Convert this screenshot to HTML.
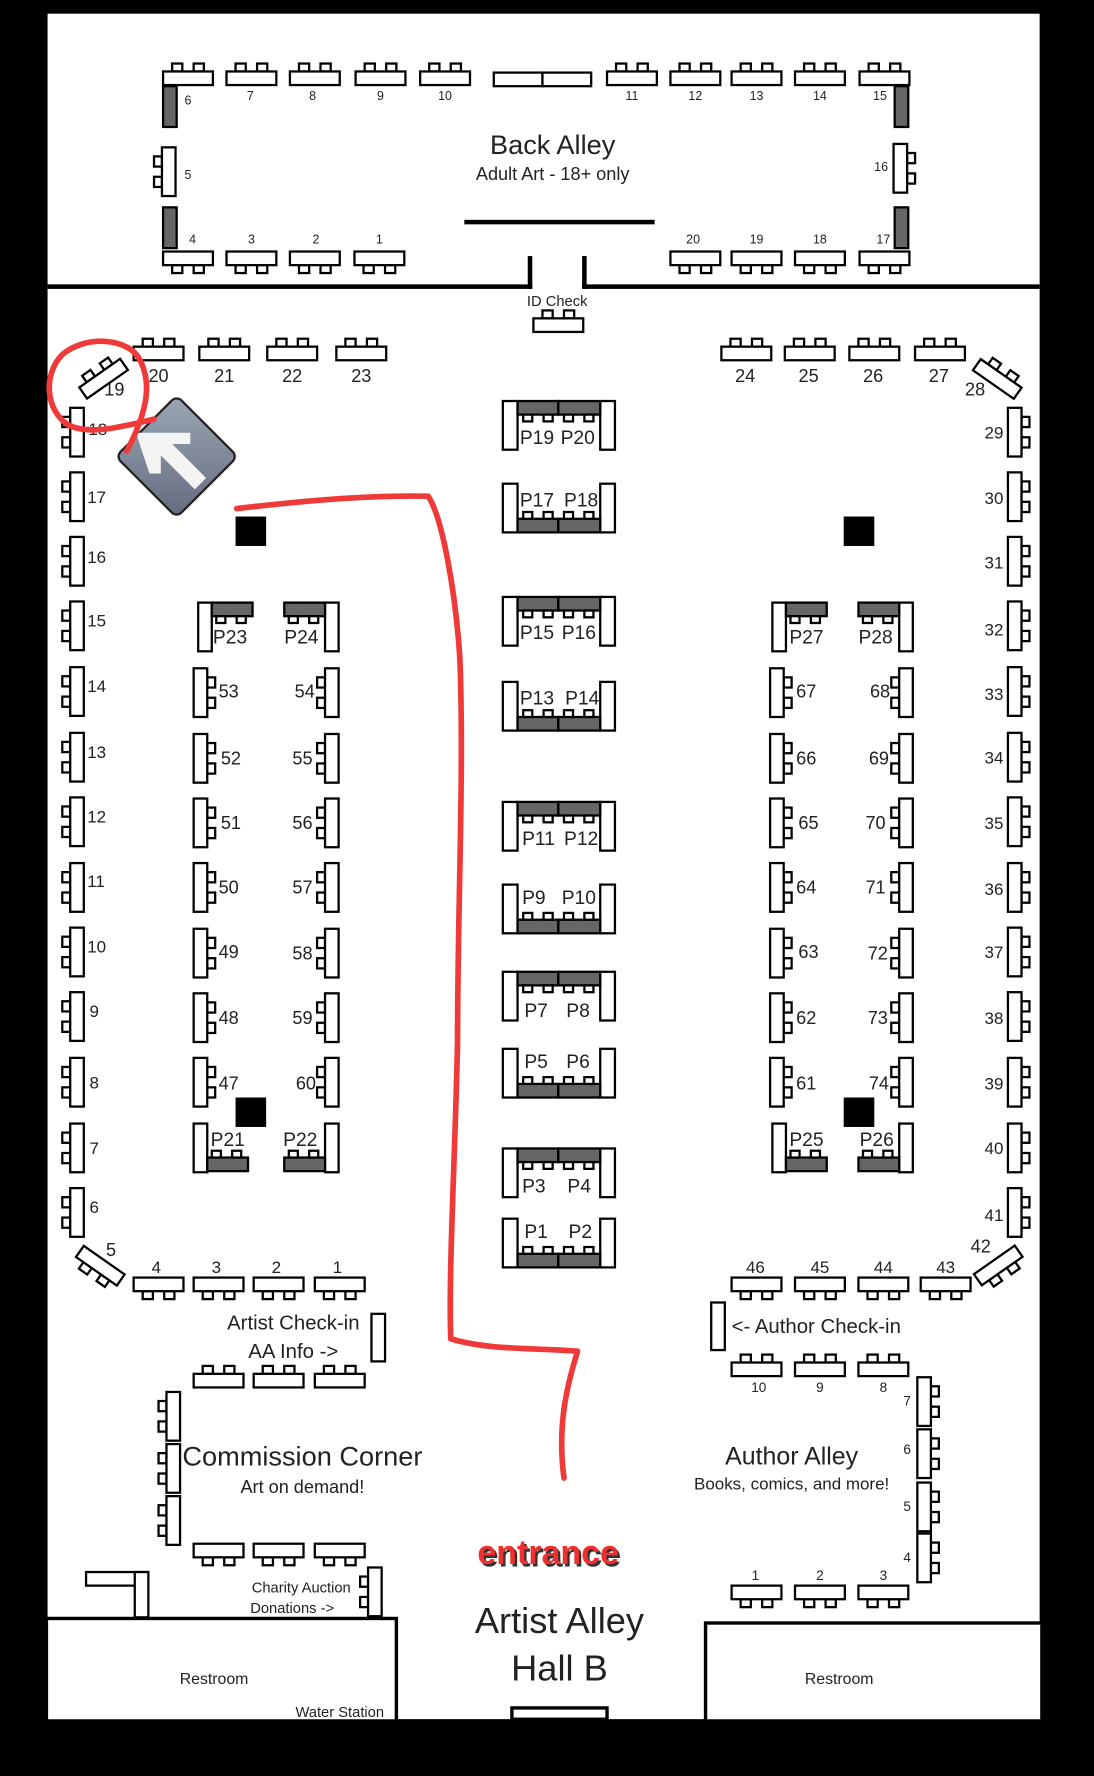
<!DOCTYPE html>
<html><head><meta charset="utf-8"><style>
html,body{margin:0;padding:0;background:#000;}
svg{display:block;}
text{font-family:"Liberation Sans",sans-serif;fill:#222;}
</style></head><body>
<svg width="1094" height="1776" viewBox="0 0 966 1568" xmlns="http://www.w3.org/2000/svg" xmlns:xlink="http://www.w3.org/1999/xlink">
<defs>
<g id="ht" fill="#fff" stroke="#000" stroke-width="2"><rect x="8" y="-7" width="9" height="7"/><rect x="27" y="-7" width="9" height="7"/><rect x="0" y="0" width="44" height="12"/></g>
<g id="hb" fill="#fff" stroke="#000" stroke-width="2"><rect x="8" y="12" width="9" height="7"/><rect x="27" y="12" width="9" height="7"/><rect x="0" y="0" width="44" height="12"/></g>
<g id="vl" fill="#fff" stroke="#000" stroke-width="2"><rect x="-7" y="8" width="7" height="9"/><rect x="-7" y="26" width="7" height="9"/><rect x="0" y="0" width="12" height="43"/></g>
<g id="vr" fill="#fff" stroke="#000" stroke-width="2"><rect x="12" y="8" width="7" height="9"/><rect x="12" y="26" width="7" height="9"/><rect x="0" y="0" width="12" height="43"/></g>
<g id="pt" stroke="#000" stroke-width="2"><rect x="0" y="0" width="13" height="43" fill="#fff"/><rect x="86" y="0" width="13" height="43" fill="#fff"/><rect x="13" y="0" width="36" height="12" fill="#666"/><rect x="49" y="0" width="37" height="12" fill="#666"/><g fill="#fff"><rect x="18" y="12" width="8" height="6"/><rect x="36" y="12" width="8" height="6"/><rect x="54" y="12" width="8" height="6"/><rect x="72" y="12" width="8" height="6"/></g></g>
<g id="pb" stroke="#000" stroke-width="2"><rect x="0" y="0" width="13" height="43" fill="#fff"/><rect x="86" y="0" width="13" height="43" fill="#fff"/><rect x="13" y="31" width="36" height="12" fill="#666"/><rect x="49" y="31" width="37" height="12" fill="#666"/><g fill="#fff"><rect x="18" y="25" width="8" height="6"/><rect x="36" y="25" width="8" height="6"/><rect x="54" y="25" width="8" height="6"/><rect x="72" y="25" width="8" height="6"/></g></g>
<linearGradient id="gd" x1="0" y1="0" x2="1" y2="1"><stop offset="0" stop-color="#9aa8b3"/><stop offset="1" stop-color="#666b80"/></linearGradient>
</defs>
<rect x="0" y="0" width="966" height="1568" fill="#000"/>
<rect x="42" y="12" width="876" height="1506" fill="#fff"/>

<!-- Back Alley -->
<g>
<use href="#ht" x="144" y="63"/><use href="#ht" x="200" y="63"/><use href="#ht" x="256" y="63"/><use href="#ht" x="314" y="63"/><use href="#ht" x="371" y="63"/>
<rect x="436" y="64" width="43" height="12" fill="#fff" stroke="#000" stroke-width="2"/><rect x="479" y="64" width="43" height="12" fill="#fff" stroke="#000" stroke-width="2"/>
<use href="#ht" x="536" y="63"/><use href="#ht" x="592" y="63"/><use href="#ht" x="646" y="63"/><use href="#ht" x="702" y="63"/><use href="#ht" x="759" y="63"/>
<rect x="144" y="76" width="12" height="36" fill="#666" stroke="#000" stroke-width="2"/>
<rect x="790" y="76" width="12" height="36" fill="#666" stroke="#000" stroke-width="2"/>
<rect x="144" y="183" width="12" height="36" fill="#666" stroke="#000" stroke-width="2"/>
<rect x="790" y="183" width="12" height="36" fill="#666" stroke="#000" stroke-width="2"/>
<use href="#vl" x="143" y="130"/><use href="#vr" x="789" y="127"/>
<use href="#hb" x="144" y="222"/><use href="#hb" x="200" y="222"/><use href="#hb" x="256" y="222"/><use href="#hb" x="313" y="222"/>
<use href="#hb" x="592" y="222"/><use href="#hb" x="646" y="222"/><use href="#hb" x="702" y="222"/><use href="#hb" x="759" y="222"/>
<g font-size="11" text-anchor="middle">
<text x="166" y="92">6</text><text x="221" y="88">7</text><text x="276" y="88">8</text><text x="336" y="88">9</text><text x="393" y="88">10</text>
<text x="558" y="88">11</text><text x="614" y="88">12</text><text x="668" y="88">13</text><text x="724" y="88">14</text><text x="777" y="88">15</text>
<text x="166" y="158">5</text><text x="778" y="151">16</text>
<text x="170" y="215">4</text><text x="222" y="215">3</text><text x="279" y="215">2</text><text x="335" y="215">1</text>
<text x="612" y="215">20</text><text x="668" y="215">19</text><text x="724" y="215">18</text><text x="780" y="215">17</text>
</g>
<text x="488" y="136" font-size="24" text-anchor="middle">Back Alley</text>
<text x="488" y="159" font-size="16" text-anchor="middle">Adult Art - 18+ only</text>
<rect x="410" y="194" width="168" height="4" fill="#000"/>
<rect x="42" y="251" width="428" height="4" fill="#000"/><rect x="514" y="251" width="404" height="4" fill="#000"/>
<rect x="466" y="226" width="4" height="29" fill="#000"/><rect x="514" y="226" width="4" height="29" fill="#000"/>
<text x="492" y="270" font-size="13" text-anchor="middle">ID Check</text>
<use href="#ht" x="471" y="281"/>
</g>

<!-- top main row -->
<use href="#ht" x="118" y="306"/><use href="#ht" x="176" y="306"/><use href="#ht" x="236" y="306"/><use href="#ht" x="297" y="306"/>
<use href="#ht" x="637" y="306"/><use href="#ht" x="693" y="306"/><use href="#ht" x="750" y="306"/><use href="#ht" x="808" y="306"/>
<g font-size="16" text-anchor="middle">
<text x="140" y="337">20</text><text x="198" y="337">21</text><text x="258" y="337">22</text><text x="319" y="337">23</text>
<text x="658" y="337">24</text><text x="714" y="337">25</text><text x="771" y="337">26</text><text x="829" y="337">27</text>
<text x="101" y="349">19</text><text x="861" y="349">28</text>
<text x="98" y="1109">5</text><text x="866" y="1106">42</text>
</g>
<use href="#ht" transform="translate(70,342) rotate(-35)"/>
<use href="#ht" transform="translate(866,317) rotate(35)"/>
<use href="#hb" transform="translate(74,1100) rotate(35)"/>
<use href="#hb" transform="translate(860,1125) rotate(-35)"/>

<!-- left wall -->
<g>
<use href="#vl" x="62" y="360"/><use href="#vl" x="62" y="417"/><use href="#vl" x="62" y="474"/><use href="#vl" x="62" y="531"/><use href="#vl" x="62" y="589"/><use href="#vl" x="62" y="647"/><use href="#vl" x="62" y="704"/><use href="#vl" x="62" y="762"/><use href="#vl" x="62" y="819"/><use href="#vl" x="62" y="876"/><use href="#vl" x="62" y="934"/><use href="#vl" x="62" y="992"/><use href="#vl" x="62" y="1049"/>
</g>
<g font-size="15">
<text x="78" y="384">18</text><text x="77" y="444">17</text><text x="77" y="497">16</text><text x="77" y="553">15</text><text x="77" y="611">14</text><text x="77" y="669">13</text><text x="77" y="726">12</text><text x="77" y="783">11</text><text x="77" y="841">10</text><text x="79" y="898">9</text><text x="79" y="961">8</text><text x="79" y="1019">7</text><text x="79" y="1071">6</text>
</g>
<!-- right wall -->
<g>
<use href="#vr" x="890" y="360"/><use href="#vr" x="890" y="417"/><use href="#vr" x="890" y="474"/><use href="#vr" x="890" y="531"/><use href="#vr" x="890" y="589"/><use href="#vr" x="890" y="647"/><use href="#vr" x="890" y="704"/><use href="#vr" x="890" y="762"/><use href="#vr" x="890" y="819"/><use href="#vr" x="890" y="876"/><use href="#vr" x="890" y="934"/><use href="#vr" x="890" y="992"/><use href="#vr" x="890" y="1049"/>
</g>
<g font-size="15" text-anchor="end">
<text x="886" y="387">29</text><text x="886" y="445">30</text><text x="886" y="502">31</text><text x="886" y="561">32</text><text x="886" y="618">33</text><text x="886" y="674">34</text><text x="886" y="732">35</text><text x="886" y="790">36</text><text x="886" y="846">37</text><text x="886" y="904">38</text><text x="886" y="962">39</text><text x="886" y="1019">40</text><text x="886" y="1078">41</text>
</g>

<!-- center P tables -->
<use href="#pt" x="444" y="354"/><use href="#pb" x="444" y="427"/>
<use href="#pt" x="444" y="527"/><use href="#pb" x="444" y="602"/>
<use href="#pt" x="444" y="708"/><use href="#pb" x="444" y="781"/>
<use href="#pt" x="444" y="858"/><use href="#pb" x="444" y="926"/>
<use href="#pt" x="444" y="1014"/><use href="#pb" x="444" y="1076"/>
<g font-size="17">
<text x="459" y="392">P19</text><text x="495" y="392">P20</text>
<text x="459" y="447">P17</text><text x="498" y="447">P18</text>
<text x="459" y="564">P15</text><text x="496" y="564">P16</text>
<text x="459" y="622">P13</text><text x="499" y="622">P14</text>
<text x="461" y="746">P11</text><text x="498" y="746">P12</text>
<text x="461" y="798">P9</text><text x="496" y="798">P10</text>
<text x="463" y="898">P7</text><text x="500" y="898">P8</text>
<text x="463" y="943">P5</text><text x="500" y="943">P6</text>
<text x="461" y="1053">P3</text><text x="501" y="1053">P4</text>
<text x="463" y="1093">P1</text><text x="502" y="1093">P2</text>
</g>

<!-- side P tables & columns -->
<g stroke="#000" stroke-width="2">
<rect x="175" y="532" width="12" height="43" fill="#fff"/><rect x="187" y="532" width="36" height="12" fill="#666"/><rect x="191" y="544" width="8" height="6" fill="#fff"/><rect x="209" y="544" width="8" height="6" fill="#fff"/>
<rect x="287" y="532" width="12" height="43" fill="#fff"/><rect x="251" y="532" width="36" height="12" fill="#666"/><rect x="255" y="544" width="8" height="6" fill="#fff"/><rect x="273" y="544" width="8" height="6" fill="#fff"/>
<rect x="682" y="532" width="12" height="43" fill="#fff"/><rect x="694" y="532" width="36" height="12" fill="#666"/><rect x="698" y="544" width="8" height="6" fill="#fff"/><rect x="716" y="544" width="8" height="6" fill="#fff"/>
<rect x="794" y="532" width="12" height="43" fill="#fff"/><rect x="758" y="532" width="36" height="12" fill="#666"/><rect x="762" y="544" width="8" height="6" fill="#fff"/><rect x="780" y="544" width="8" height="6" fill="#fff"/>
<rect x="171" y="992" width="12" height="43" fill="#fff"/><rect x="183" y="1022" width="36" height="12" fill="#666"/><rect x="187" y="1016" width="8" height="6" fill="#fff"/><rect x="205" y="1016" width="8" height="6" fill="#fff"/>
<rect x="287" y="992" width="12" height="43" fill="#fff"/><rect x="251" y="1022" width="36" height="12" fill="#666"/><rect x="255" y="1016" width="8" height="6" fill="#fff"/><rect x="273" y="1016" width="8" height="6" fill="#fff"/>
<rect x="682" y="992" width="12" height="43" fill="#fff"/><rect x="694" y="1022" width="36" height="12" fill="#666"/><rect x="698" y="1016" width="8" height="6" fill="#fff"/><rect x="716" y="1016" width="8" height="6" fill="#fff"/>
<rect x="794" y="992" width="12" height="43" fill="#fff"/><rect x="758" y="1022" width="36" height="12" fill="#666"/><rect x="762" y="1016" width="8" height="6" fill="#fff"/><rect x="780" y="1016" width="8" height="6" fill="#fff"/>
</g>
<g font-size="17">
<text x="188" y="568">P23</text><text x="251" y="568">P24</text><text x="697" y="568">P27</text><text x="758" y="568">P28</text>
<text x="186" y="1012">P21</text><text x="250" y="1012">P22</text><text x="697" y="1012">P25</text><text x="759" y="1012">P26</text>
</g>
<g>
<use href="#vr" x="171" y="590"/><use href="#vr" x="171" y="648"/><use href="#vr" x="171" y="705"/><use href="#vr" x="171" y="762"/><use href="#vr" x="171" y="820"/><use href="#vr" x="171" y="877"/><use href="#vr" x="171" y="934"/>
<use href="#vl" x="287" y="590"/><use href="#vl" x="287" y="648"/><use href="#vl" x="287" y="705"/><use href="#vl" x="287" y="762"/><use href="#vl" x="287" y="820"/><use href="#vl" x="287" y="877"/><use href="#vl" x="287" y="934"/>
<use href="#vr" x="680" y="590"/><use href="#vr" x="680" y="648"/><use href="#vr" x="680" y="705"/><use href="#vr" x="680" y="762"/><use href="#vr" x="680" y="820"/><use href="#vr" x="680" y="877"/><use href="#vr" x="680" y="934"/>
<use href="#vl" x="794" y="590"/><use href="#vl" x="794" y="648"/><use href="#vl" x="794" y="705"/><use href="#vl" x="794" y="762"/><use href="#vl" x="794" y="820"/><use href="#vl" x="794" y="877"/><use href="#vl" x="794" y="934"/>
</g>
<g font-size="16">
<text x="193" y="616">53</text><text x="195" y="675">52</text><text x="195" y="732">51</text><text x="193" y="789">50</text><text x="193" y="846">49</text><text x="193" y="904">48</text><text x="193" y="962">47</text>
<text x="703" y="616">67</text><text x="703" y="675">66</text><text x="705" y="732">65</text><text x="703" y="789">64</text><text x="705" y="846">63</text><text x="703" y="904">62</text><text x="703" y="962">61</text>
</g>
<g font-size="16" text-anchor="end">
<text x="278" y="616">54</text><text x="276" y="675">55</text><text x="276" y="732">56</text><text x="276" y="789">57</text><text x="276" y="847">58</text><text x="276" y="904">59</text><text x="279" y="962">60</text>
<text x="786" y="616">68</text><text x="785" y="675">69</text><text x="782" y="732">70</text><text x="782" y="789">71</text><text x="784" y="847">72</text><text x="784" y="904">73</text><text x="785" y="962">74</text>
</g>
<rect x="208" y="456" width="27" height="26" fill="#000"/><rect x="745" y="456" width="27" height="26" fill="#000"/>
<rect x="208" y="969" width="27" height="26" fill="#000"/><rect x="745" y="969" width="27" height="26" fill="#000"/>

<!-- bottom rows -->
<use href="#hb" x="118" y="1128"/><use href="#hb" x="171" y="1128"/><use href="#hb" x="224" y="1128"/><use href="#hb" x="278" y="1128"/>
<use href="#hb" x="646" y="1128"/><use href="#hb" x="702" y="1128"/><use href="#hb" x="758" y="1128"/><use href="#hb" x="813" y="1128"/>
<g font-size="15" text-anchor="middle">
<text x="138" y="1124">4</text><text x="191" y="1124">3</text><text x="244" y="1124">2</text><text x="298" y="1124">1</text>
<text x="667" y="1124">46</text><text x="724" y="1124">45</text><text x="780" y="1124">44</text><text x="835" y="1124">43</text>
</g>

<!-- Artist check-in / commission -->
<text x="259" y="1174" font-size="18" text-anchor="middle">Artist Check-in</text>
<text x="259" y="1199" font-size="18" text-anchor="middle">AA Info -&gt;</text>
<rect x="328" y="1160" width="12" height="42" fill="#fff" stroke="#000" stroke-width="2"/>
<use href="#ht" x="171" y="1213"/><use href="#ht" x="224" y="1213"/><use href="#ht" x="278" y="1213"/>
<use href="#vl" x="147" y="1229"/><use href="#vl" x="147" y="1275"/><use href="#vl" x="147" y="1321"/>
<text x="267" y="1294" font-size="24" text-anchor="middle">Commission Corner</text>
<text x="267" y="1318" font-size="16" text-anchor="middle">Art on demand!</text>
<use href="#hb" x="171" y="1363"/><use href="#hb" x="224" y="1363"/><use href="#hb" x="278" y="1363"/>
<text x="266" y="1406" font-size="13" text-anchor="middle">Charity Auction</text>
<text x="258" y="1424" font-size="13" text-anchor="middle">Donations -&gt;</text>
<use href="#vl" x="325" y="1384"/>
<g fill="#fff" stroke="#000" stroke-width="2"><rect x="76" y="1388" width="54" height="12"/><rect x="119" y="1388" width="12" height="40"/></g>

<!-- Author -->
<rect x="628" y="1150" width="12" height="42" fill="#fff" stroke="#000" stroke-width="2"/>
<text x="646" y="1177" font-size="18">&lt;- Author Check-in</text>
<use href="#ht" x="646" y="1203"/><use href="#ht" x="702" y="1203"/><use href="#ht" x="758" y="1203"/>
<g font-size="12" text-anchor="middle"><text x="670" y="1229">10</text><text x="724" y="1229">9</text><text x="780" y="1229">8</text>
<text x="801" y="1241">7</text><text x="801" y="1284">6</text><text x="801" y="1334">5</text><text x="801" y="1379">4</text>
<text x="667" y="1395">1</text><text x="724" y="1395">2</text><text x="780" y="1395">3</text></g>
<use href="#vr" x="810" y="1216"/><use href="#vr" x="810" y="1262"/><use href="#vr" x="810" y="1309"/><use href="#vr" x="810" y="1354"/>
<text x="699" y="1293" font-size="22" text-anchor="middle">Author Alley</text>
<text x="699" y="1315" font-size="15" text-anchor="middle">Books, comics, and more!</text>
<use href="#hb" x="646" y="1400"/><use href="#hb" x="702" y="1400"/><use href="#hb" x="758" y="1400"/>

<!-- restrooms & labels -->
<rect x="41" y="1429" width="309" height="92" fill="#fff" stroke="#000" stroke-width="3"/>
<text x="189" y="1487" font-size="14" text-anchor="middle">Restroom</text>
<text x="300" y="1516" font-size="13" text-anchor="middle">Water Station</text>
<rect x="623" y="1433" width="297" height="88" fill="#fff" stroke="#000" stroke-width="3"/>
<text x="741" y="1487" font-size="14" text-anchor="middle">Restroom</text>
<rect x="0" y="1518" width="966" height="50" fill="#000"/>
<rect x="452" y="1508" width="84" height="10" fill="#fff" stroke="#000" stroke-width="3"/>
<text x="486" y="1383" font-size="30" font-weight="bold" text-anchor="middle" style="fill:#333">entrance</text>
<text x="484" y="1381" font-size="30" font-weight="bold" text-anchor="middle" style="fill:#f03030">entrance</text>
<text x="494" y="1442" font-size="32" text-anchor="middle">Artist Alley</text>
<text x="494" y="1484" font-size="32" text-anchor="middle">Hall B</text>

<!-- arrow icon -->
<g transform="translate(156,403) rotate(45)">
<rect x="-38" y="-38" width="76" height="76" rx="6" fill="url(#gd)" stroke="#222" stroke-width="2"/>
</g>
<path d="M128,374 L176,374 L176,384 L160,384 L190,414 L180,424 L150,394 L150,410 L140,410 Z" fill="#f4f4f4" transform="translate(-8,8)"/>

<!-- red annotations -->
<g fill="none" stroke="#f03a3a" stroke-width="5" stroke-linecap="round" stroke-linejoin="round">
<path d="M136,370 C110,376 80,385 60,375 C40,362 38,330 55,313 C75,296 110,298 122,315 C134,335 132,360 112,398"/>
<path d="M209,449 C260,443 320,437 378,438 C390,455 402,520 406,580 C410,680 404,800 404,920 C402,1020 396,1120 398,1182 C430,1192 470,1190 510,1193 C500,1225 492,1260 498,1305"/>
</g>
</svg>
</body></html>
